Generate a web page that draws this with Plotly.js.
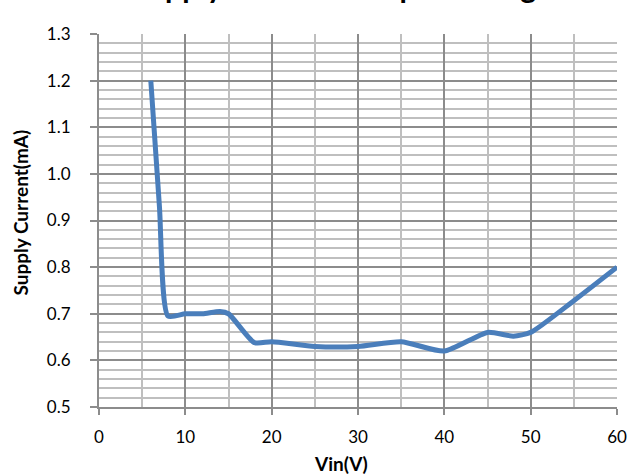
<!DOCTYPE html>
<html>
<head>
<meta charset="utf-8">
<script src="https://cdn.plot.ly/plotly-3.0.1.min.js"></script>
<style>html,body{margin:0;padding:0;background:#fff;}#chart{width:641px;height:475px;}</style>
</head>
<body>
<div id="chart"></div>
<script>
const chartTitle = "Supply Current vs Input Voltage";
const xTitle = "Vin(V)";
const yTitle = "Supply Current(mA)";
const vin = [6, 7, 8, 10, 12, 14, 15, 18, 20, 25, 30, 35, 40, 45, 48, 50, 55, 60];
const current = [1.2, 0.93, 0.695, 0.70, 0.70, 0.705, 0.70, 0.638, 0.64, 0.63, 0.63, 0.64, 0.62, 0.66, 0.652, 0.66, 0.728, 0.80];

// minor grid positions (between the major ones)
const xMinor = [];
for (let i = 0; i < 6; i++) xMinor.push(i * 10 + 5);
const yMinor = [];
for (let i = 0; i < 8; i++) for (let j = 1; j < 5; j++) yMinor.push(+(0.5 + i * 0.1 + j * 0.02).toFixed(2));

const font = "Lato, 'Open Sans', sans-serif";
const trace = {
  x: vin, y: current, type: 'scatter', mode: 'lines',
  line: {color: '#4A7EBB', width: 5, shape: 'spline', smoothing: 0.6},
  hoverinfo: 'skip'
};
const majorGrid = '#8c8c8c', minorGrid = '#bfbfbf';
const layout = {
  width: 641, height: 475,
  margin: {l: 99, r: 24, t: 34, b: 68},
  paper_bgcolor: '#fff', plot_bgcolor: '#fff',
  showlegend: false,
  xaxis: {
    range: [0, 60], dtick: 10, tick0: 0,
    showgrid: true, gridcolor: majorGrid, gridwidth: 2,
    minor: {tickmode: 'array', tickvals: xMinor, showgrid: true, gridcolor: minorGrid, gridwidth: 2, ticks: ''},
    showline: true, linecolor: majorGrid, linewidth: 2,
    ticks: 'outside', ticklen: 6, tickcolor: majorGrid, tickwidth: 2,
    ticklabelstandoff: 8,
    tickfont: {family: font, size: 17, color: '#000'},
    zeroline: false
  },
  yaxis: {
    range: [0.5, 1.3], dtick: 0.1, tick0: 0.5, tickformat: '.1f',
    showgrid: true, gridcolor: majorGrid, gridwidth: 2,
    minor: {tickmode: 'array', tickvals: yMinor, showgrid: true, gridcolor: minorGrid, gridwidth: 2, ticks: ''},
    showline: true, linecolor: majorGrid, linewidth: 2,
    ticks: 'outside', ticklen: 7, tickcolor: majorGrid, tickwidth: 2,
    ticklabelstandoff: 16,
    tickfont: {family: font, size: 17, color: '#000'},
    zeroline: false
  },
  annotations: [
    {text: '<b>' + chartTitle + '</b>', xref: 'paper', yref: 'paper', x: 0.469, y: 1,
     xanchor: 'center', yanchor: 'middle', yshift: 48, showarrow: false,
     font: {family: font, size: 30, color: '#000'}},
    {text: '<b>' + xTitle + '</b>', xref: 'paper', yref: 'paper', x: 0.467, y: -0.1528,
     xanchor: 'center', yanchor: 'middle', showarrow: false,
     font: {family: font, size: 19, color: '#000'}},
    {text: '<b>' + yTitle + '</b>', xref: 'paper', yref: 'paper', x: -0.1506, y: 0.5214,
     xanchor: 'center', yanchor: 'middle', textangle: -90, showarrow: false,
     font: {family: font, size: 19, color: '#000'}}
  ]
};
Plotly.newPlot('chart', [trace], layout, {staticPlot: true, displayModeBar: false});
</script>
</body>
</html>
